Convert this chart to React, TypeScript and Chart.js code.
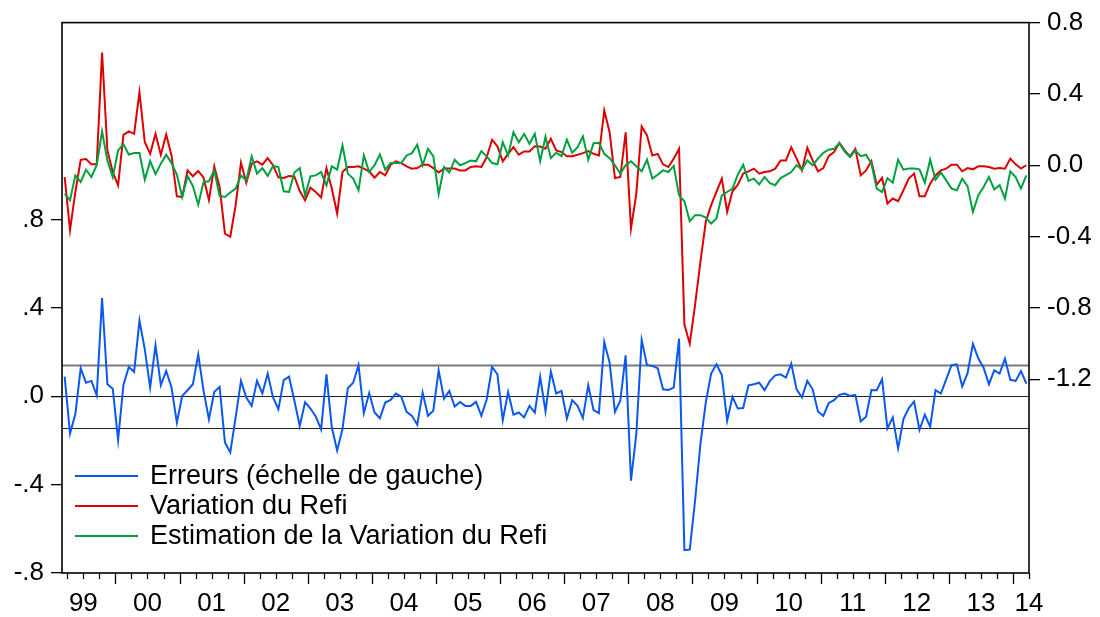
import React, { useEffect, useRef } from 'react';
import { Chart, registerables } from 'chart.js';

Chart.register(...registerables);

// Monthly observations 1999M03 .. 2014M03
const START_YEAR = 1999;
const START_MONTH = 3;
const N_OBS = 181;
const months: string[] = Array.from({ length: N_OBS }, (_, k) => {
  const m0 = START_MONTH - 1 + k;
  return `${START_YEAR + Math.floor(m0 / 12)}M${String((m0 % 12) + 1).padStart(2, '0')}`;
});

const yearLabels = ['99', '00', '01', '02', '03', '04', '05', '06', '07', '08', '09', '10', '11', '12', '13', '14'];

// Residuals (left scale)
const errors = [
  0.088, -0.169, -0.081, 0.126, 0.061, 0.069, 0.004, 0.444, 0.054, 0.034,
  -0.198, 0.051, 0.132, 0.11, 0.342, 0.212, 0.039, 0.23, 0.05, 0.114,
  0.039, -0.119, 0.001, 0.027, 0.054, 0.189, 0.024, -0.104, 0.019, 0.042,
  -0.209, -0.254, -0.096, 0.069, -0.006, -0.044, 0.069, 0.012, 0.102, -0.006,
  -0.059, 0.073, 0.088, -0.021, -0.135, -0.027, -0.056, -0.092, -0.15, 0.099,
  -0.141, -0.246, -0.149, 0.036, 0.061, 0.14, -0.077, 0.014, -0.074, -0.1,
  -0.029, -0.017, 0.012, -0.002, -0.071, -0.089, -0.129, 0.016, -0.089, -0.066,
  0.117, -0.011, 0.024, -0.047, -0.026, -0.044, -0.044, -0.026, -0.089, -0.014,
  0.132, 0.099, -0.108, 0.019, -0.084, -0.074, -0.096, -0.044, -0.074, 0.087,
  -0.068, 0.111, 0.012, 0.024, -0.101, -0.018, -0.044, -0.099, 0.049, -0.063,
  -0.077, 0.245, 0.152, -0.071, -0.021, 0.185, -0.382, -0.171, 0.254, 0.14,
  0.137, 0.126, 0.031, 0.028, 0.039, 0.26, -0.697, -0.694, -0.472, -0.216,
  -0.029, 0.102, 0.144, 0.096, -0.111, -0.003, -0.056, -0.054, 0.049, 0.054,
  0.061, 0.027, 0.069, 0.094, 0.099, 0.084, 0.147, 0.031, -0.006, 0.069,
  0.031, -0.069, -0.089, -0.032, -0.018, 0.006, 0.012, 0.001, 0.006, -0.114,
  -0.093, 0.028, 0.027, 0.076, -0.146, -0.096, -0.236, -0.104, -0.054, -0.024,
  -0.153, -0.084, -0.138, 0.027, 0.012, 0.076, 0.14, 0.144, 0.044, 0.104,
  0.237, 0.171, 0.129, 0.054, 0.117, 0.102, 0.17, 0.074, 0.069, 0.114,
  0.057,
];

// Actual change of the refi rate (right scale)
const refiVariation = [
  -0.066, -0.364, -0.15, 0.03, 0.035, 0.005, 0.005, 0.632, 0.083, -0.038,
  -0.113, 0.17, 0.19, 0.176, 0.409, 0.129, 0.064, 0.176, 0.059, 0.172,
  0.055, -0.174, -0.178, -0.029, -0.062, -0.032, -0.07, -0.196, -0.006, -0.122,
  -0.383, -0.401, -0.224, 0.014, -0.098, 0.009, 0.022, 0.003, 0.04, 0,
  -0.068, -0.071, -0.06, -0.064, -0.145, -0.196, -0.126, -0.15, -0.181, -0.016,
  -0.131, -0.271, -0.038, -0.01, -0.01, -0.006, -0.019, -0.034, -0.07, -0.038,
  -0.057, 0.003, 0.022, 0.012, -0.006, -0.019, -0.016, 0.003, 0.003, -0.016,
  -0.041, -0.019, -0.019, -0.019, -0.029, -0.029, -0.01, -0.006, -0.01, 0.046,
  0.143, 0.106, 0.022, 0.064, 0.101, 0.059, 0.077, 0.077, 0.107, 0.105,
  0.092, 0.148, 0.083, 0.074, 0.05, 0.051, 0.059, 0.068, 0.079, 0.064,
  0.055, 0.307, 0.185, -0.072, -0.066, 0.185, -0.355, -0.159, 0.217, 0.167,
  0.055, 0.064, 0.005, -0.01, 0.037, 0.092, -0.894, -1.001, -0.783, -0.541,
  -0.317, -0.224, -0.15, -0.075, -0.261, -0.146, -0.109, -0.047, -0.034, -0.019,
  -0.047, -0.038, -0.034, -0.019, 0.027, 0.027, 0.101, 0.037, -0.029, 0.098,
  0.027, -0.034, -0.016, 0.051, 0.074, 0.125, 0.083, 0.05, 0.092, -0.057,
  -0.029, 0.023, -0.109, -0.07, -0.215, -0.187, -0.202, -0.14, -0.075, -0.047,
  -0.174, -0.174, -0.103, -0.057, -0.029, -0.019, 0.003, 0.003, -0.034, -0.016,
  -0.023, -0.006, -0.006, -0.01, -0.019, -0.016, -0.019, 0.037, 0.005, -0.019,
  0,
];

// Fitted change of the refi rate (right scale)
const refiEstimate = [
  -0.159, -0.196, -0.057, -0.094, -0.025, -0.066, 0, 0.19, 0.027, -0.066,
  0.083, 0.118, 0.06, 0.068, 0.068, -0.081, 0.023, -0.05, 0.009, 0.059,
  0.012, -0.053, -0.178, -0.06, -0.117, -0.221, -0.094, -0.09, -0.029, -0.172,
  -0.178, -0.153, -0.131, -0.057, -0.085, 0.05, -0.047, -0.016, -0.06, -0.004,
  -0.01, -0.146, -0.15, -0.041, -0.016, -0.17, -0.062, -0.057, -0.038, -0.113,
  -0.006, -0.025, 0.111, -0.047, -0.075, -0.14, 0.055, -0.038, 0, 0.06,
  -0.025, 0.012, 0.012, 0.012, 0.055, 0.068, 0.115, 0, 0.092, 0.051,
  -0.163, -0.01, -0.041, 0.031, 0, 0.012, 0.027, 0.022, 0.079, 0.05,
  0.012, 0.005, 0.129, 0.055, 0.185, 0.129, 0.176, 0.12, 0.176, 0.022,
  0.16, 0.04, 0.07, 0.051, 0.144, 0.07, 0.101, 0.161, 0.031, 0.124,
  0.126, 0.064, 0.04, 0, -0.047, 0, 0.022, -0.006, -0.034, 0.031,
  -0.075, -0.053, -0.029, -0.038, -0.004, -0.169, -0.202, -0.314, -0.28, -0.28,
  -0.293, -0.327, -0.299, -0.169, -0.15, -0.131, -0.053, 0.003, -0.088, -0.075,
  -0.107, -0.066, -0.1, -0.112, -0.072, -0.056, -0.038, 0, -0.025, 0.027,
  0, 0.037, 0.07, 0.087, 0.092, 0.124, 0.077, 0.046, 0.083, 0.051,
  0.059, 0.009, -0.131, -0.15, -0.072, -0.098, 0.031, -0.025, -0.019, -0.019,
  -0.023, -0.098, 0.031, -0.081, -0.041, -0.085, -0.131, -0.14, -0.075, -0.117,
  -0.262, -0.169, -0.122, -0.066, -0.136, -0.112, -0.187, -0.034, -0.066, -0.131,
  -0.057,
];

const leftTicks = [-0.8, -0.4, 0, 0.4, 0.8];
const leftTickLabels = ['-.8', '-.4', '.0', '.4', '.8'];
const rightTicks = [-1.2, -0.8, -0.4, 0, 0.4, 0.8];
const rightTickLabels = ['-1.2', '-0.8', '-0.4', '0.0', '0.4', '0.8'];
const referenceLines = [0.143, 0, -0.143]; // +1 S.E., zero, -1 S.E. (left scale)

const seriesLabels = ['Erreurs (échelle de gauche)', 'Variation du Refi', 'Estimation de la Variation du Refi'];
const seriesColors = ['#0a58ee', '#dd0000', '#00a040'];

const FONT = '"Liberation Sans", Arial, Helvetica, sans-serif';

const decorPlugin = {
  id: 'eviewsDecor',
  beforeDatasetsDraw(chart: any) {
    const { ctx, chartArea } = chart;
    const y = chart.scales.y;
    ctx.save();
    referenceLines.forEach((v, i) => {
      const py = Math.round(y.getPixelForValue(v)) + 0.5;
      ctx.beginPath();
      ctx.strokeStyle = i === 0 ? '#7a7a7a' : '#222222';
      ctx.lineWidth = i === 0 ? 2 : 1.2;
      ctx.moveTo(chartArea.left, py);
      ctx.lineTo(chartArea.right, py);
      ctx.stroke();
    });
    ctx.restore();
  },
  afterDraw(chart: any) {
    const { ctx, chartArea } = chart;
    const x = chart.scales.x;
    const { left, right, top, bottom } = chartArea;
    ctx.save();
    // frame
    ctx.strokeStyle = '#000';
    ctx.lineWidth = 1.6;
    ctx.strokeRect(left, top, right - left, bottom - top);

    // x ticks at quarter boundaries
    const p0 = x.getPixelForValue(0);
    const step = x.getPixelForValue(1) - p0;
    ctx.lineWidth = 1.3;
    for (let k = 0; k <= N_OBS; k++) {
      const m = (START_MONTH - 1 + k) % 12;
      if (m % 3 !== 0) continue;
      const px = p0 + step * (k - 0.5);
      if (px < left + 1 || px > right + 0.5) continue;
      const len = m === 0 ? 11 : 6;
      ctx.beginPath();
      ctx.moveTo(Math.round(px) + 0.5, bottom);
      ctx.lineTo(Math.round(px) + 0.5, bottom + len);
      ctx.stroke();
    }

    // year labels
    ctx.fillStyle = '#000';
    ctx.font = `26px ${FONT}`;
    ctx.textAlign = 'center';
    ctx.textBaseline = 'middle';
    yearLabels.forEach((lab, yi) => {
      const janIndex = yi * 12 - (START_MONTH - 1);
      let cx = p0 + step * (janIndex + 5.5);
      cx = Math.max(left, Math.min(right, cx));
      ctx.fillText(lab, cx, bottom + 31);
    });

    // legend
    ctx.font = `27px ${FONT}`;
    ctx.textAlign = 'left';
    const rows = [476, 506, 536];
    seriesLabels.forEach((lab, i) => {
      ctx.beginPath();
      ctx.strokeStyle = seriesColors[i];
      ctx.lineWidth = 2;
      ctx.moveTo(75, rows[i]);
      ctx.lineTo(138, rows[i]);
      ctx.stroke();
      ctx.fillStyle = '#000';
      ctx.fillText(lab, 150, rows[i] + 1);
    });
    ctx.restore();
  },
};

export default function App() {
  const canvasRef = useRef<HTMLCanvasElement | null>(null);

  useEffect(() => {
    document.body.style.margin = '0';
    const canvas = canvasRef.current;
    if (!canvas) return;
    const chart = new Chart(canvas, {
      type: 'line',
      data: {
        labels: months,
        datasets: [
          {
            label: seriesLabels[2],
            data: refiEstimate,
            yAxisID: 'y1',
            borderColor: seriesColors[2],
            borderWidth: 2,
            pointRadius: 0,
            tension: 0,
            order: 0,
          },
          {
            label: seriesLabels[1],
            data: refiVariation,
            yAxisID: 'y1',
            borderColor: seriesColors[1],
            borderWidth: 2,
            pointRadius: 0,
            tension: 0,
            order: 1,
          },
          {
            label: seriesLabels[0],
            data: errors,
            yAxisID: 'y',
            borderColor: seriesColors[0],
            borderWidth: 2,
            pointRadius: 0,
            tension: 0,
            order: 2,
          },
        ],
      },
      options: {
        responsive: false,
        animation: false,
        events: [],
        layout: { padding: { top: 20, left: 0, right: 0, bottom: 0 } },
        plugins: {
          legend: { display: false },
          tooltip: { enabled: false },
          title: { display: false },
        },
        scales: {
          x: {
            type: 'category',
            offset: true,
            grid: { display: false },
            border: { display: false },
            ticks: { display: false },
            afterFit: (s: any) => {
              s.height = 44;
            },
          },
          y: {
            position: 'left',
            min: -0.8,
            max: 1.69,
            afterBuildTicks: (s: any) => {
              s.ticks = leftTicks.map((v) => ({ value: v }));
            },
            ticks: {
              autoSkip: false,
              padding: 7,
              color: '#000',
              font: { family: FONT, size: 26 },
              callback: (_v: any, i: number) => leftTickLabels[i],
            },
            grid: { drawOnChartArea: false, drawTicks: true, tickLength: 11, color: '#000', lineWidth: 1.3 },
            border: { display: false },
            afterFit: (s: any) => {
              s.width = 62;
            },
          },
          y1: {
            position: 'right',
            min: -2.287,
            max: 0.8,
            afterBuildTicks: (s: any) => {
              s.ticks = rightTicks.map((v) => ({ value: v }));
            },
            ticks: {
              autoSkip: false,
              padding: 7,
              color: '#000',
              font: { family: FONT, size: 26 },
              callback: (_v: any, i: number) => rightTickLabels[i],
            },
            grid: { drawOnChartArea: false, drawTicks: true, tickLength: 11, color: '#000', lineWidth: 1.3 },
            border: { display: false },
            afterFit: (s: any) => {
              s.width = 71;
            },
          },
        },
      },
      plugins: [decorPlugin],
    } as any);
    return () => chart.destroy();
  }, []);

  return (
    <div style={{ width: 1100, height: 617, background: '#fff' }}>
      <canvas ref={canvasRef} width={1100} height={617} style={{ display: 'block' }} />
    </div>
  );
}
